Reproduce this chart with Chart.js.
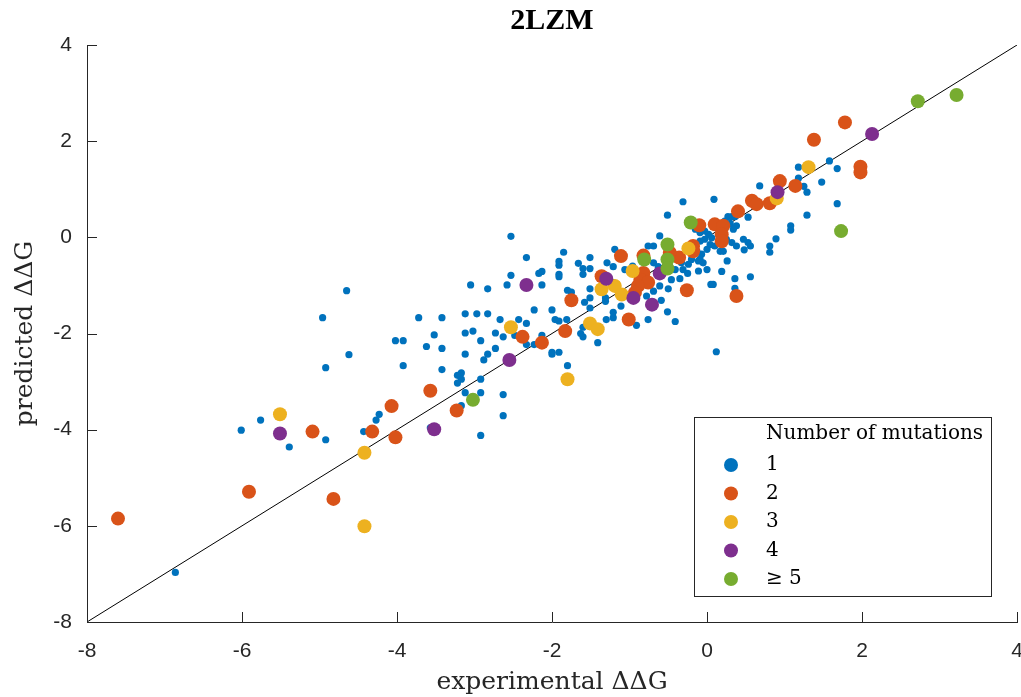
<!DOCTYPE html>
<html>
<head>
<meta charset="utf-8">
<script src="https://cdn.jsdelivr.net/npm/chart.js@4.4.0/dist/chart.umd.min.js"></script>
<style>
  body { margin: 0; background: #fff; }
  #wrap { width: 1021px; height: 697px; }
</style>
</head>
<body>
<div id="wrap"><canvas id="ddg"></canvas></div>
<script>
// predicted vs experimental ddG, grouped by number of mutations
var groupLabels = ['1', '2', '3', '4', '\u2265 5'];
var groupColors = ['#0072BD', '#D95319', '#EDB120', '#7E2F8E', '#77AC30'];
var axisTicks = [-8, -6, -4, -2, 0, 2, 4];

var mut1 = [
  [-4.65,-1.11],[-4.96,-1.67],[-4.62,-2.44],[-4.92,-2.71],[-6.01,-4.01],[-5.76,-3.80],[-5.39,-4.36],
  [-4.92,-4.21],[-4.43,-4.04],[-4.27,-3.80],[-4.23,-3.68],[-6.86,-6.97],[-3.57,-3.96],[-3.17,-3.50],[-2.92,-4.12],
  [-2.53,0.02],[-2.33,-0.42],[-1.85,-0.31],[-1.91,-0.50],[-1.91,-0.58],[-1.91,-0.77],[-1.91,-0.82],
  [-2.17,-0.75],[-2.13,-0.71],[-2.53,-0.79],[-2.58,-0.99],[-2.13,-0.99],[-3.05,-0.99],[-2.83,-1.07],
  [-3.72,-1.67],[-3.42,-1.67],[-3.12,-1.59],[-2.97,-1.59],[-2.83,-1.59],[-2.67,-1.71],[-2.43,-1.71],
  [-2.33,-1.79],[-2.23,-1.51],[-2.00,-1.51],[-1.96,-1.71],[-1.91,-1.74],[-1.81,-1.71],
  [-3.52,-2.03],[-3.12,-1.99],[-3.02,-1.95],[-2.92,-2.15],[-2.73,-1.99],[-2.63,-2.07],[-2.48,-2.04],
  [-4.02,-2.15],[-3.92,-2.15],[-3.62,-2.27],[-3.42,-2.31],[-2.73,-2.31],[-2.33,-2.23],[-2.23,-2.23],
  [-2.13,-2.04],[-2.00,-2.39],[-2.00,-2.43],[-1.91,-2.39],[-1.80,-2.67],
  [-3.92,-2.67],[-3.42,-2.75],[-3.12,-2.43],[-2.83,-2.43],[-2.88,-2.55],[-3.22,-2.87],[-3.17,-2.82],
  [-3.22,-3.03],[-3.17,-2.95],[-2.92,-2.95],[-3.12,-3.23],[-2.92,-3.23],[-2.63,-3.27],[-2.63,-3.71],
  [-1.80,-1.10],[-1.75,-1.14],[-1.66,-0.54],[-1.60,-0.65],[-1.60,-0.77],[-1.51,-0.65],[-1.51,-0.42],
  [-1.51,-1.07],[-1.51,-1.26],[-1.51,-1.47],[-1.58,-1.35],[-1.60,-1.87],[-1.63,-2.00],[-1.60,-2.07],[-1.41,-2.19],
  [-1.30,-1.71],[-1.21,-1.67],[-1.21,-1.56],[-1.31,-1.33],[-1.31,-1.26],[-1.11,-1.43],[-0.91,-1.83],
  [-0.76,-1.71],[-0.41,-1.75],[-0.51,-1.55],[-0.59,-1.31],
  [0.68,1.07],[1.48,1.15],[1.25,1.06],[1.29,0.94],[1.68,0.70],[1.29,0.46],[1.08,0.24],[1.08,0.15],
  [0.89,-0.03],[0.81,-0.18],[0.81,-0.31],[0.56,-0.18],[0.48,-0.26],[0.56,-0.82],[0.36,-0.86],[0.36,-1.06],
  [0.08,-0.98],[0.05,-0.98],[0.26,-0.49],[0.19,-0.71],[0.09,0.79],[-0.31,0.74],[-0.51,0.46],[-0.61,0.03],
  [-0.76,-0.18],[-0.69,-0.18],[-1.19,-0.25],[-1.29,-0.53],[-1.21,-0.61],[-1.06,-0.67],[-0.96,-0.60],
  [-0.69,-0.53],[-0.63,-0.61],[-0.48,-0.61],[-0.41,-0.67],[-0.31,-0.67],[-0.25,-0.75],[-0.11,-0.70],
  [0.00,-0.67],[-0.35,-0.86],[-0.46,-0.88],[-0.50,-1.07],[-0.61,-1.01],[-0.69,-1.12],[-0.78,-1.22],
  [-1.29,-0.88],[-1.21,-0.94],[-0.74,-0.91],
  [0.27,0.43],[0.32,0.43],[0.36,0.43],[0.23,0.34],[0.30,0.29],[0.38,0.24],[0.34,0.17],[-0.15,0.17],
  [-0.09,0.10],[-0.03,0.13],[0.02,0.06],[0.06,-0.01],[-0.03,-0.04],[-0.09,-0.08],[0.04,-0.15],[0.10,-0.18],
  [0.00,-0.25],[-0.13,-0.29],[-0.07,-0.35],[-0.09,-0.46],[-0.05,-0.53],[0.25,-0.04],[0.21,-0.29],[0.17,-0.29],
  [0.47,-0.04],[0.53,-0.11],[0.32,-0.11],[0.38,-0.18],[-0.20,-0.46],[-0.24,-0.56],[-0.11,-0.49],[-0.39,-0.39],
  [-0.33,-0.53],
  [1.18,1.46],[1.58,1.59],[1.68,1.43],[1.18,1.23],[0.53,0.42],[0.12,-2.38]
];

var mut2 = [
  [-7.60,-5.85],[-5.91,-5.29],[-4.82,-5.44],[-4.02,-4.16],[-4.07,-3.51],[-3.23,-3.60],[-5.09,-4.04],
  [-4.32,-4.04],[-3.57,-3.19],[-2.38,-2.07],[-2.13,-2.19],[-1.83,-1.95],[-1.75,-1.31],[-1.01,-1.71],
  [0.94,1.17],[1.14,1.07],[0.58,0.76],[0.64,0.69],[0.81,0.71],[0.40,0.54],[0.10,0.27],[0.21,0.24],
  [0.19,0.06],[0.19,-0.08],[-0.10,0.25],[-0.18,-0.18],[-0.18,-0.29],[-0.36,-0.42],[-0.48,-0.32],
  [-0.82,-0.38],[-1.11,-0.39],[-0.82,-0.74],[-0.86,-0.88],[-0.76,-0.94],[-0.89,-1.01],[-0.93,-1.15],
  [-0.26,-1.10],[0.38,-1.22],[-1.36,-0.81],
  [1.78,2.39],[1.38,2.03],[1.98,1.47],[1.98,1.35]
];

var mut3 = [
  [-5.51,-3.68],[-4.42,-6.01],[-4.42,-4.48],[-2.53,-1.87],[-1.80,-2.95],[-1.51,-1.79],[-1.41,-1.91],
  [-0.24,-0.23],[0.90,0.81],[1.31,1.46],[-0.96,-0.70],[-1.19,-1.01],[-1.10,-1.19],[-1.36,-1.08]
];

var mut4 = [
  [-5.51,-4.08],[-3.52,-3.99],[-2.33,-0.99],[-2.55,-2.55],[0.91,0.94],[-1.30,-0.86],[-0.61,-0.75],
  [-0.95,-1.26],[-0.71,-1.40],[2.13,2.15]
];

var mut5 = [
  [-3.02,-3.38],[-0.21,0.31],[-0.51,-0.15],[-0.81,-0.46],[-0.51,-0.46],[-0.51,-0.65],[1.73,0.13],
  [2.72,2.83],[3.22,2.96]
];

var identityLine = [[-8, -8], [4, 4]];

function toPoints(arr) {
  return arr.map(function (p) { return { x: p[0], y: p[1] }; });
}

var groups = [mut1, mut2, mut3, mut4, mut5];
var datasets = groups.map(function (g, i) {
  return {
    label: groupLabels[i],
    data: toPoints(g),
    backgroundColor: groupColors[i],
    borderWidth: 0,
    pointRadius: i === 0 ? 3.6 : 7,
    pointHoverRadius: i === 0 ? 3.6 : 7,
    order: 4 - i
  };
});
datasets.push({
  type: 'line',
  label: 'y = x',
  data: toPoints(identityLine),
  borderColor: '#000',
  borderWidth: 1,
  pointRadius: 0,
  fill: false,
  order: 10
});

var serif = "'DejaVu Serif', serif";
var sans = "'Liberation Sans', Arial, sans-serif";

// inward ticks, title on the plot centre and the boxed legend (MATLAB look)
var matlabBits = {
  id: 'matlabBits',
  afterDraw: function (chart) {
    var ctx = chart.ctx;
    var a = chart.chartArea;
    var xs = chart.scales.x, ys = chart.scales.y;
    ctx.save();
    ctx.strokeStyle = '#262626';
    ctx.lineWidth = 1;
    ctx.beginPath();
    axisTicks.forEach(function (v) {
      var px = Math.round(xs.getPixelForValue(v)) + 0.5;
      ctx.moveTo(px, a.bottom);
      ctx.lineTo(px, a.bottom - 10);
      var py = Math.round(ys.getPixelForValue(v)) + 0.5;
      ctx.moveTo(a.left, py);
      ctx.lineTo(a.left + 10, py);
    });
    ctx.stroke();

    // title
    ctx.fillStyle = '#000';
    ctx.font = "bold 30px 'Liberation Serif', serif";
    ctx.textAlign = 'center';
    ctx.textBaseline = 'middle';
    ctx.fillText('2LZM', (a.left + a.right) / 2, 21);

    // legend
    var bx = a.right - 323, by = a.bottom - 205, bw = 297, bh = 179;
    ctx.fillStyle = '#fff';
    ctx.fillRect(bx, by, bw, bh);
    ctx.strokeStyle = '#262626';
    ctx.strokeRect(bx + 0.5, by + 0.5, bw, bh);
    ctx.fillStyle = '#000';
    ctx.font = '20px ' + serif;
    ctx.textAlign = 'left';
    ctx.fillText('Number of mutations', bx + 72, by + 17);
    chart.data.datasets.slice(0, 5).forEach(function (ds, i) {
      var cy = by + 48 + i * 28.5;
      ctx.beginPath();
      ctx.fillStyle = ds.backgroundColor;
      ctx.arc(bx + 37, cy, 7, 0, Math.PI * 2);
      ctx.fill();
      ctx.fillStyle = '#000';
      ctx.fillText(ds.label, bx + 72, cy);
    });
    ctx.restore();
  }
};

new Chart(document.getElementById('ddg'), {
  type: 'scatter',
  data: { datasets: datasets },
  plugins: [matlabBits],
  options: {
    responsive: true,
    maintainAspectRatio: false,
    animation: false,
    layout: { autoPadding: false, padding: { top: 45, right: 4, left: 0, bottom: 0 } },
    plugins: {
      legend: { display: false },
      title: { display: false },
      tooltip: { enabled: false }
    },
    scales: {
      x: {
        type: 'linear',
        min: -8,
        max: 4,
        afterFit: function (s) { s.height = 75; s.paddingLeft = 0; s.paddingRight = 0; },
        afterBuildTicks: function (s) { s.ticks = axisTicks.map(function (v) { return { value: v }; }); },
        grid: { drawOnChartArea: false, drawTicks: false },
        border: { display: true, color: '#262626', width: 1 },
        ticks: { padding: 17, color: '#262626', font: { family: sans, size: 21 } },
        title: {
          display: true,
          text: 'experimental \u0394\u0394G',
          color: '#262626',
          font: { family: serif, size: 25 },
          padding: { top: 0, bottom: 0 }
        }
      },
      y: {
        type: 'linear',
        min: -8,
        max: 4,
        afterFit: function (s) { s.width = 87; },
        afterBuildTicks: function (s) { s.ticks = axisTicks.map(function (v) { return { value: v }; }); },
        grid: { drawOnChartArea: false, drawTicks: false },
        border: { display: true, color: '#262626', width: 1 },
        ticks: { padding: 15, color: '#262626', font: { family: sans, size: 21 } },
        title: {
          display: true,
          text: 'predicted \u0394\u0394G',
          color: '#262626',
          font: { family: serif, size: 25 },
          padding: { top: 10, bottom: 0 }
        }
      }
    }
  }
});
</script>
</body>
</html>
